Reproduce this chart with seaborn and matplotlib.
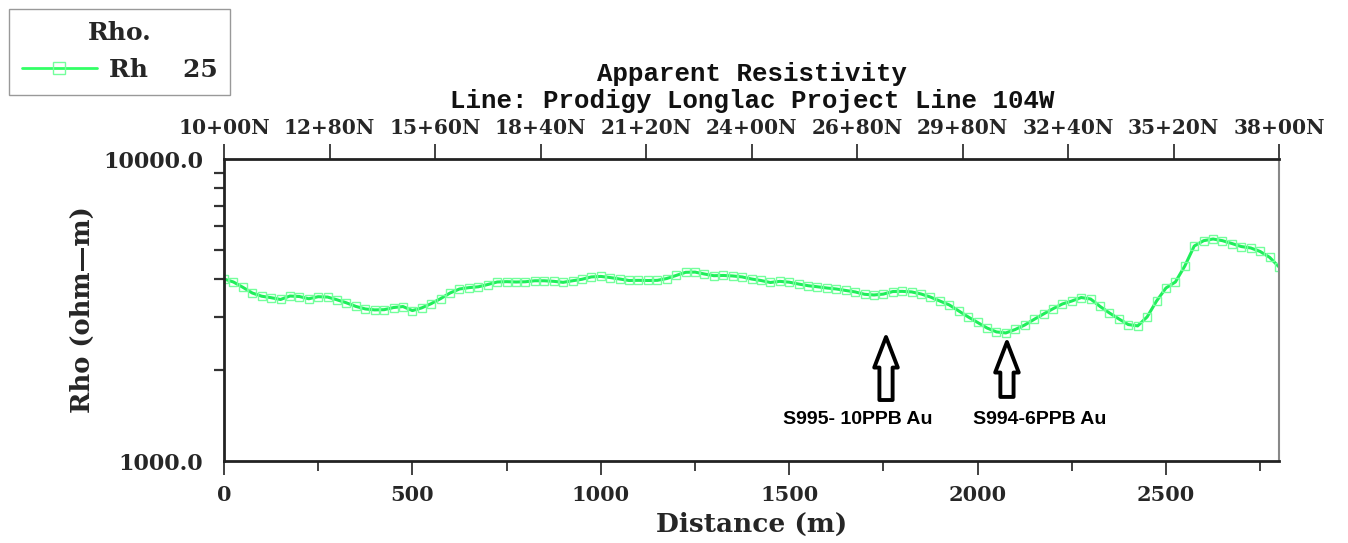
import numpy as np
import pandas as pd
import matplotlib
matplotlib.use("Agg")
import matplotlib.pyplot as plt
import seaborn as sns
from matplotlib.lines import Line2D
from matplotlib.patches import FancyArrowPatch, ArrowStyle
from matplotlib.ticker import FixedLocator, NullFormatter

# ---------------- data ----------------
distance = list(range(0, 2801, 25))
rho = [4006, 3915, 3760, 3600, 3513, 3474, 3426, 3518, 3505, 3445,
       3500, 3490, 3418, 3340, 3250, 3188, 3165, 3170, 3222, 3247,
       3148, 3215, 3320, 3450, 3600, 3712, 3750, 3775, 3840, 3915,
       3925, 3915, 3922, 3952, 3952, 3935, 3905, 3952, 3997, 4070,
       4085, 4050, 4006, 3960, 3965, 3960, 3965, 4020, 4115, 4215,
       4222, 4161, 4108, 4115, 4100, 4070, 4006, 3960, 3900, 3934,
       3910, 3855, 3806, 3775, 3740, 3712, 3670, 3630, 3565, 3546,
       3570, 3640, 3645, 3630, 3573, 3490, 3386, 3287, 3140, 3000,
       2876, 2757, 2676, 2655, 2726, 2820, 2944, 3068, 3192, 3311,
       3386, 3478, 3439, 3250, 3092, 2954, 2830, 2802, 3000, 3386,
       3740, 3915, 4422, 5150, 5365, 5434, 5365, 5250, 5130, 5075,
       4940, 4726, 4393]

bottom_ticks = [0, 500, 1000, 1500, 2000, 2500]
bottom_minor = [250, 750, 1250, 1750, 2250, 2750]
station_pos = [0, 280, 560, 840, 1120, 1400, 1680, 1960, 2240, 2520, 2800]
station_labels = ["10+00N", "12+80N", "15+60N", "18+40N", "21+20N", "24+00N",
                  "26+80N", "29+80N", "32+40N", "35+20N", "38+00N"]
y_major = [1000, 10000]
y_major_labels = ["1000.0", "10000.0"]
y_minor = [2000, 3000, 4000, 5000, 6000, 7000, 8000, 9000]

samples = ["S995- 10PPB Au", "S994-6PPB Au"]
sample_x = [1757, 2078]
arrow_tip = [2574, 2478]
arrow_base = [1592, 1630]
text_x = [1683, 2166]
text_y = [1377, 1377]

df = pd.DataFrame({"Distance": distance, "Rho": rho})

# ---------------- style ----------------
sns.set_style("white")
plt.rcParams["font.family"] = ["DejaVu Serif"]

W, H = 1348, 543
fig = plt.figure(figsize=(W / 100, H / 100), dpi=100)
ax = fig.add_axes([224 / W, 1 - 461 / H, (1279 - 224) / W, (461 - 159) / H])

line_col = "#1fee5a"
mark_col = "#74ff9c"
sns.lineplot(data=df, x="Distance", y="Rho", ax=ax, color=line_col, linewidth=2.2,
             marker="s", markersize=6.0, markerfacecolor="none",
             markeredgecolor=mark_col, markeredgewidth=1.0, legend=False)

ax.set_yscale("log")
ax.set_xlim(0, 2800)
ax.set_ylim(1000, 10000)

# y axis
ax.yaxis.set_major_locator(FixedLocator(y_major))
ax.set_yticklabels(y_major_labels)
ax.yaxis.set_minor_locator(FixedLocator(y_minor))
ax.yaxis.set_minor_formatter(NullFormatter())
ax.tick_params(axis="y", which="major", direction="out", length=9, width=1.6,
               color="#222222", pad=6, labelsize=16)
ax.tick_params(axis="y", which="minor", direction="out", length=7, width=1.6,
               color="#333333", left=True)
for t in ax.get_yticklabels():
    t.set_fontweight("bold")

# x bottom axis
ax.xaxis.set_major_locator(FixedLocator(bottom_ticks))
ax.xaxis.set_minor_locator(FixedLocator(bottom_minor))
ax.set_xticklabels([str(v) for v in bottom_ticks])
ax.tick_params(axis="x", which="major", direction="out", length=10, width=1.3,
               color="#333333", pad=7, labelsize=15, bottom=True)
ax.tick_params(axis="x", which="minor", direction="out", length=7, width=1.3,
               color="#333333", bottom=True)
for t in ax.get_xticklabels():
    t.set_fontweight("bold")

ax.set_xlabel("Distance (m)", fontsize=19, fontweight="bold", labelpad=5)
ax.set_ylabel("Rho (ohm\u2014m)", fontsize=18.5, fontweight="bold", labelpad=6)

# spines
for s in ["left", "bottom", "top"]:
    ax.spines[s].set_color("#222222")
    ax.spines[s].set_linewidth(2.0)
ax.spines["right"].set_color("#888888")
ax.spines["right"].set_linewidth(1.5)

# top station axis
top = ax.secondary_xaxis("top")
top.xaxis.set_major_locator(FixedLocator(station_pos))
top.set_xticklabels(station_labels)
top.tick_params(axis="x", direction="out", length=11, width=1.3, color="#333333",
                pad=4, labelsize=14.5)
top.spines["top"].set_visible(False)
for t in top.get_xticklabels():
    t.set_fontweight("bold")

# title lines
fig.text(752 / W, 1 - 74 / H, "Apparent Resistivity", ha="center", va="center",
         family="Liberation Mono", fontweight="bold", fontsize=18.5, color="#111111")
fig.text(752 / W, 1 - 101 / H, "Line: Prodigy Longlac Project Line 104W", ha="center",
         va="center", family="Liberation Mono", fontweight="bold", fontsize=18.5,
         color="#111111")

# arrows and annotation text
style = ArrowStyle.Simple(head_length=22, head_width=17, tail_width=9.5)
for name, xs, tip, base, tx, ty in zip(samples, sample_x, arrow_tip, arrow_base,
                                       text_x, text_y):
    arr = FancyArrowPatch((xs, base), (xs, tip), arrowstyle=style, mutation_scale=1,
                          shrinkA=0, shrinkB=0, facecolor="white", edgecolor="black",
                          linewidth=2.8, zorder=5)
    ax.add_patch(arr)
    ax.text(tx, ty, name, ha="center", va="center", family="Liberation Sans",
            fontweight="bold", fontsize=14, color="black")

# legend
handle = Line2D([], [], color="#33ff66", linewidth=2.0, marker="s", markersize=9,
                markerfacecolor="none", markeredgecolor=mark_col, markeredgewidth=1.0)
leg = fig.legend([handle], ["Rh    25"], title="Rho.", loc="upper left",
                 bbox_to_anchor=(9 / W, 1 - 9 / H), bbox_transform=fig.transFigure,
                 borderaxespad=0, fancybox=False, frameon=True, edgecolor="#999999",
                 framealpha=1, handlelength=3.0, handletextpad=0.5, borderpad=0.5,
                 labelspacing=0.5,
                 prop={"family": "DejaVu Serif", "weight": "bold", "size": 18},
                 title_fontproperties={"family": "DejaVu Serif", "weight": "bold",
                                       "size": 18})
leg.get_frame().set_linewidth(1.0)

fig.savefig("out.png", dpi=100)
